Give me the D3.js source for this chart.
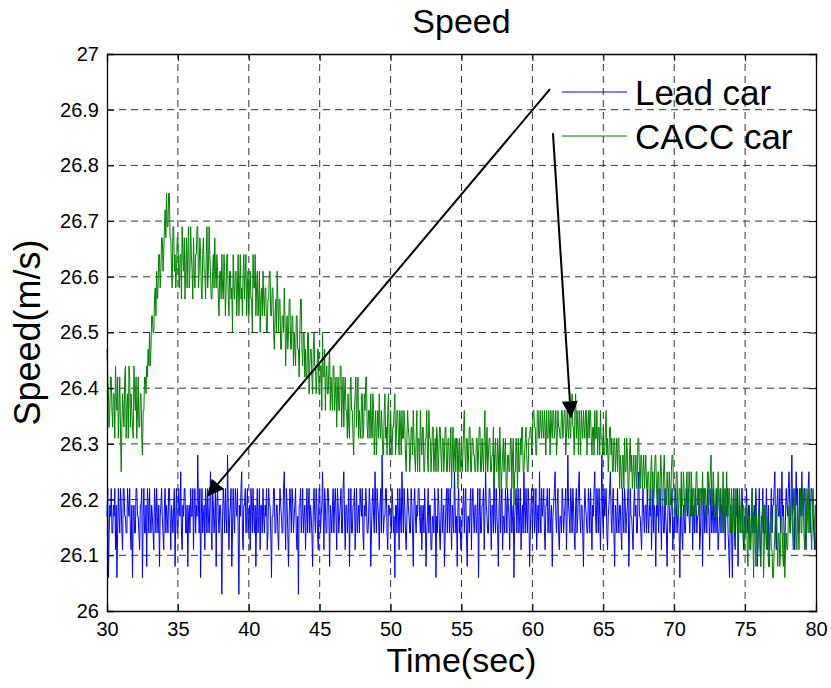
<!DOCTYPE html>
<html>
<head>
<meta charset="utf-8">
<script src="https://cdn.jsdelivr.net/npm/d3@7/dist/d3.min.js"></script>
<style>
  body { margin: 0; background: #fff; }
  text { font-family: "Liberation Sans", Arial, Helvetica, sans-serif; }
</style>
</head>
<body>
<div id="chart"></div>
<script>
// Set up conventions
let width = 831;
let height = 688;
let margin = ({top: 54, right: 15, bottom: 77, left: 107});

// sample time of both series (sec)
let startTime = 30;
let sampleStep = 0.05;

let xTicks = [30, 35, 40, 45, 50, 55, 60, 65, 70, 75, 80];
let yTicks = [26, 26.1, 26.2, 26.3, 26.4, 26.5, 26.6, 26.7, 26.8, 26.9, 27];
let seriesNames = ["Lead car", "CACC car"];
let seriesColors = ["#0000ff", "#008000"];

// Lead car speed (m/s), one row per second
let leadSpeed = [
  26.17, 26.22, 26.06, 26.14, 26.19, 26.17, 26.22, 26.14, 26.14, 26.19, 26.17, 26.22, 26.11, 26.19, 26.06, 26.14, 26.22, 26.17, 26.14, 26.22,
  26.19, 26.14, 26.11, 26.22, 26.22, 26.17, 26.17, 26.14, 26.14, 26.22, 26.19, 26.17, 26.22, 26.14, 26.11, 26.19, 26.06, 26.17, 26.19, 26.14,
  26.14, 26.22, 26.22, 26.17, 26.17, 26.14, 26.11, 26.19, 26.19, 26.22, 26.06, 26.17, 26.22, 26.14, 26.14, 26.19, 26.08, 26.22, 26.19, 26.14,
  26.22, 26.17, 26.14, 26.19, 26.17, 26.14, 26.11, 26.22, 26.19, 26.14, 26.22, 26.17, 26.14, 26.19, 26.08, 26.17, 26.19, 26.22, 26.17, 26.14,
  26.11, 26.19, 26.22, 26.14, 26.19, 26.17, 26.14, 26.22, 26.22, 26.17, 26.11, 26.19, 26.17, 26.14, 26.19, 26.22, 26.08, 26.17, 26.22, 26.14,
  26.14, 26.22, 26.19, 26.17, 26.25, 26.14, 26.11, 26.19, 26.17, 26.22, 26.22, 26.14, 26.14, 26.19, 26.08, 26.17, 26.19, 26.14, 26.22, 26.17,
  26.17, 26.22, 26.11, 26.19, 26.22, 26.14, 26.19, 26.17, 26.28, 26.19, 26.14, 26.22, 26.06, 26.17, 26.22, 26.14, 26.17, 26.19, 26.11, 26.22,
  26.19, 26.14, 26.22, 26.17, 26.14, 26.19, 26.25, 26.14, 26.11, 26.22, 26.19, 26.14, 26.17, 26.22, 26.08, 26.19, 26.22, 26.17, 26.14, 26.19,
  26.19, 26.14, 26.03, 26.17, 26.22, 26.19, 26.14, 26.22, 26.17, 26.14, 26.28, 26.19, 26.11, 26.17, 26.19, 26.22, 26.08, 26.14, 26.22, 26.17,
  26.14, 26.22, 26.19, 26.17, 26.22, 26.14, 26.03, 26.19, 26.17, 26.22, 26.25, 26.14, 26.11, 26.19, 26.19, 26.22, 26.14, 26.17, 26.22, 26.14,
  26.17, 26.19, 26.11, 26.22, 26.19, 26.14, 26.22, 26.17, 26.14, 26.19, 26.08, 26.17, 26.22, 26.14, 26.17, 26.22, 26.11, 26.19, 26.19, 26.14,
  26.22, 26.17, 26.14, 26.19, 26.17, 26.22, 26.11, 26.14, 26.22, 26.19, 26.19, 26.14, 26.06, 26.17, 26.17, 26.22, 26.22, 26.14, 26.14, 26.19,
  26.19, 26.14, 26.11, 26.17, 26.22, 26.19, 26.17, 26.14, 26.14, 26.22, 26.25, 26.17, 26.11, 26.22, 26.19, 26.14, 26.08, 26.17, 26.22, 26.19,
  26.14, 26.22, 26.19, 26.14, 26.17, 26.19, 26.22, 26.14, 26.11, 26.17, 26.03, 26.19, 26.19, 26.22, 26.14, 26.17, 26.22, 26.14, 26.17, 26.19,
  26.11, 26.17, 26.22, 26.14, 26.19, 26.22, 26.14, 26.19, 26.17, 26.14, 26.08, 26.19, 26.22, 26.17, 26.14, 26.22, 26.19, 26.14, 26.11, 26.22,
  26.22, 26.14, 26.17, 26.19, 26.25, 26.17, 26.11, 26.22, 26.19, 26.14, 26.14, 26.22, 26.22, 26.17, 26.08, 26.19, 26.17, 26.14, 26.19, 26.22,
  26.14, 26.19, 26.22, 26.17, 26.11, 26.22, 26.19, 26.14, 26.17, 26.19, 26.22, 26.14, 26.14, 26.22, 26.25, 26.17, 26.11, 26.19, 26.19, 26.14,
  26.17, 26.22, 26.08, 26.17, 26.22, 26.14, 26.14, 26.19, 26.19, 26.22, 26.11, 26.17, 26.22, 26.14, 26.17, 26.19, 26.14, 26.22, 26.19, 26.17,
  26.22, 26.14, 26.11, 26.19, 26.17, 26.22, 26.19, 26.14, 26.14, 26.17, 26.22, 26.19, 26.08, 26.14, 26.19, 26.22, 26.17, 26.14, 26.25, 26.19,
  26.14, 26.22, 26.19, 26.17, 26.11, 26.19, 26.22, 26.14, 26.28, 26.19, 26.14, 26.17, 26.17, 26.22, 26.22, 26.14, 26.11, 26.19, 26.19, 26.17,
  26.17, 26.14, 26.22, 26.19, 26.14, 26.17, 26.06, 26.19, 26.19, 26.14, 26.22, 26.17, 26.11, 26.22, 26.17, 26.14, 26.25, 26.19, 26.14, 26.22,
  26.19, 26.14, 26.11, 26.17, 26.22, 26.19, 26.17, 26.14, 26.14, 26.22, 26.19, 26.14, 26.08, 26.19, 26.22, 26.17, 26.14, 26.19, 26.17, 26.22,
  26.22, 26.17, 26.14, 26.19, 26.11, 26.17, 26.19, 26.14, 26.22, 26.17, 26.08, 26.14, 26.17, 26.22, 26.14, 26.19, 26.19, 26.11, 26.11, 26.17,
  26.17, 26.14, 26.22, 26.19, 26.06, 26.17, 26.14, 26.22, 26.19, 26.14, 26.11, 26.17, 26.22, 26.14, 26.17, 26.19, 26.08, 26.14, 26.19, 26.22,
  26.14, 26.22, 26.19, 26.14, 26.22, 26.17, 26.11, 26.19, 26.17, 26.14, 26.25, 26.19, 26.14, 26.17, 26.08, 26.19, 26.22, 26.14, 26.17, 26.11,
  26.11, 26.17, 26.19, 26.22, 26.14, 26.19, 26.22, 26.14, 26.08, 26.17, 26.17, 26.14, 26.19, 26.22, 26.11, 26.19, 26.22, 26.17, 26.14, 26.19,
  26.19, 26.14, 26.17, 26.22, 26.06, 26.17, 26.22, 26.14, 26.14, 26.19, 26.19, 26.22, 26.11, 26.17, 26.25, 26.19, 26.17, 26.14, 26.14, 26.22,
  26.22, 26.17, 26.11, 26.19, 26.19, 26.14, 26.28, 26.17, 26.14, 26.22, 26.17, 26.14, 26.08, 26.19, 26.22, 26.14, 26.19, 26.22, 26.11, 26.17,
  26.17, 26.14, 26.22, 26.19, 26.14, 26.22, 26.19, 26.17, 26.11, 26.19, 26.22, 26.14, 26.17, 26.19, 26.06, 26.17, 26.19, 26.22, 26.14, 26.19,
  26.22, 26.14, 26.17, 26.22, 26.11, 26.17, 26.19, 26.14, 26.25, 26.19, 26.14, 26.22, 26.17, 26.14, 26.22, 26.19, 26.08, 26.14, 26.19, 26.22,
  26.14, 26.19, 26.22, 26.14, 26.17, 26.22, 26.11, 26.17, 26.19, 26.14, 26.25, 26.17, 26.14, 26.22, 26.17, 26.19, 26.22, 26.14, 26.11, 26.19,
  26.19, 26.22, 26.14, 26.17, 26.22, 26.14, 26.17, 26.19, 26.08, 26.17, 26.19, 26.22, 26.25, 26.17, 26.14, 26.19, 26.22, 26.14, 26.11, 26.17,
  26.17, 26.14, 26.22, 26.19, 26.14, 26.17, 26.19, 26.22, 26.11, 26.17, 26.28, 26.19, 26.17, 26.14, 26.22, 26.19, 26.14, 26.22, 26.19, 26.14,
  26.11, 26.19, 26.22, 26.14, 26.17, 26.22, 26.25, 26.17, 26.14, 26.19, 26.19, 26.14, 26.08, 26.17, 26.22, 26.19, 26.17, 26.14, 26.14, 26.22,
  26.19, 26.14, 26.22, 26.17, 26.11, 26.19, 26.17, 26.22, 26.25, 26.17, 26.14, 26.22, 26.19, 26.14, 26.22, 26.17, 26.11, 26.19, 26.28, 26.17,
  26.14, 26.22, 26.17, 26.19, 26.22, 26.14, 26.11, 26.17, 26.19, 26.22, 26.25, 26.17, 26.14, 26.19, 26.22, 26.14, 26.08, 26.19, 26.17, 26.14,
  26.22, 26.17, 26.14, 26.19, 26.19, 26.14, 26.11, 26.22, 26.17, 26.14, 26.22, 26.19, 26.14, 26.17, 26.19, 26.22, 26.08, 26.14, 26.22, 26.17,
  26.17, 26.14, 26.11, 26.19, 26.22, 26.17, 26.19, 26.14, 26.14, 26.22, 26.25, 26.17, 26.17, 26.14, 26.11, 26.19, 26.22, 26.17, 26.14, 26.19,
  26.19, 26.14, 26.22, 26.17, 26.14, 26.19, 26.17, 26.22, 26.11, 26.17, 26.22, 26.14, 26.19, 26.17, 26.08, 26.19, 26.17, 26.22, 26.14, 26.19,
  26.22, 26.17, 26.11, 26.19, 26.19, 26.14, 26.14, 26.22, 26.17, 26.14, 26.08, 26.17, 26.22, 26.19, 26.14, 26.17, 26.19, 26.22, 26.11, 26.14,
  26.17, 26.14, 26.22, 26.19, 26.14, 26.17, 26.19, 26.14, 26.06, 26.17, 26.22, 26.14, 26.11, 26.19, 26.17, 26.14, 26.14, 26.22, 26.19, 26.17,
  26.22, 26.17, 26.14, 26.19, 26.17, 26.22, 26.11, 26.17, 26.19, 26.14, 26.22, 26.19, 26.14, 26.17, 26.17, 26.22, 26.11, 26.14, 26.19, 26.22,
  26.08, 26.17, 26.22, 26.14, 26.17, 26.19, 26.14, 26.22, 26.19, 26.17, 26.11, 26.19, 26.22, 26.14, 26.17, 26.22, 26.14, 26.17, 26.19, 26.14,
  26.22, 26.17, 26.11, 26.14, 26.17, 26.22, 26.14, 26.19, 26.19, 26.14, 26.22, 26.17, 26.11, 26.19, 26.17, 26.22, 26.14, 26.11, 26.06, 26.17,
  26.19, 26.14, 26.06, 26.17, 26.22, 26.14, 26.11, 26.19, 26.17, 26.22, 26.08, 26.14, 26.19, 26.17, 26.14, 26.22, 26.22, 26.14, 26.11, 26.17,
  26.17, 26.14, 26.22, 26.17, 26.14, 26.19, 26.19, 26.11, 26.11, 26.17, 26.22, 26.14, 26.17, 26.19, 26.14, 26.22, 26.19, 26.08, 26.11, 26.17,
  26.22, 26.14, 26.08, 26.17, 26.17, 26.22, 26.14, 26.19, 26.19, 26.14, 26.22, 26.17, 26.11, 26.19, 26.08, 26.14, 26.17, 26.22, 26.14, 26.19,
  26.19, 26.22, 26.25, 26.14, 26.11, 26.19, 26.22, 26.17, 26.17, 26.22, 26.14, 26.19, 26.25, 26.17, 26.19, 26.14, 26.11, 26.17, 26.22, 26.19,
  26.17, 26.22, 26.25, 26.19, 26.14, 26.22, 26.28, 26.17, 26.19, 26.22, 26.11, 26.17, 26.25, 26.19, 26.22, 26.14, 26.14, 26.22, 26.19, 26.17,
  26.25, 26.19, 26.17, 26.22, 26.22, 26.14, 26.11, 26.19, 26.19, 26.22, 26.25, 26.17, 26.14, 26.22, 26.22, 26.19, 26.17, 26.14, 26.11, 26.19,
  26.19
];

// CACC car speed (m/s), one row per second
let caccSpeed = [
  26.47, 26.42, 26.39, 26.33, 26.36, 26.42, 26.42, 26.36, 26.33, 26.39, 26.39, 26.31, 26.44, 26.39, 26.36, 26.42, 26.31, 26.36, 26.42, 26.33,
  26.25, 26.33, 26.39, 26.36, 26.33, 26.42, 26.44, 26.31, 26.36, 26.39, 26.31, 26.44, 26.42, 26.33, 26.39, 26.36, 26.33, 26.31, 26.44, 26.39,
  26.36, 26.42, 26.31, 26.36, 26.42, 26.33, 26.33, 26.39, 26.39, 26.31, 26.28, 26.36, 26.36, 26.42, 26.42, 26.39, 26.44, 26.42, 26.47, 26.44,
  26.50, 26.44, 26.47, 26.53, 26.53, 26.50, 26.50, 26.56, 26.58, 26.53, 26.61, 26.56, 26.58, 26.64, 26.64, 26.58, 26.61, 26.67, 26.67, 26.61,
  26.64, 26.69, 26.72, 26.67, 26.75, 26.69, 26.69, 26.75, 26.75, 26.67, 26.67, 26.61, 26.58, 26.69, 26.69, 26.61, 26.64, 26.58, 26.61, 26.67,
  26.67, 26.61, 26.58, 26.64, 26.64, 26.56, 26.69, 26.64, 26.61, 26.67, 26.56, 26.61, 26.67, 26.58, 26.64, 26.69, 26.58, 26.61, 26.69, 26.64,
  26.61, 26.56, 26.67, 26.61, 26.58, 26.64, 26.64, 26.69, 26.69, 26.58, 26.61, 26.67, 26.64, 26.58, 26.56, 26.64, 26.67, 26.61, 26.61, 26.56,
  26.64, 26.69, 26.58, 26.61, 26.69, 26.64, 26.61, 26.56, 26.56, 26.61, 26.64, 26.58, 26.67, 26.61, 26.58, 26.64, 26.61, 26.56, 26.53, 26.61,
  26.61, 26.56, 26.64, 26.58, 26.56, 26.64, 26.61, 26.53, 26.58, 26.64, 26.64, 26.56, 26.53, 26.61, 26.61, 26.56, 26.58, 26.50, 26.64, 26.58,
  26.56, 26.61, 26.61, 26.53, 26.58, 26.64, 26.53, 26.58, 26.64, 26.56, 26.58, 26.53, 26.61, 26.64, 26.56, 26.61, 26.64, 26.53, 26.58, 26.61,
  26.53, 26.58, 26.61, 26.56, 26.56, 26.50, 26.64, 26.58, 26.58, 26.64, 26.53, 26.58, 26.61, 26.53, 26.56, 26.61, 26.50, 26.56, 26.58, 26.53,
  26.61, 26.56, 26.53, 26.58, 26.58, 26.50, 26.50, 26.56, 26.56, 26.61, 26.61, 26.53, 26.53, 26.58, 26.58, 26.50, 26.47, 26.53, 26.56, 26.50,
  26.61, 26.56, 26.50, 26.56, 26.56, 26.47, 26.47, 26.53, 26.53, 26.50, 26.58, 26.53, 26.44, 26.50, 26.53, 26.47, 26.50, 26.56, 26.56, 26.47,
  26.47, 26.53, 26.53, 26.44, 26.50, 26.47, 26.44, 26.53, 26.53, 26.47, 26.47, 26.42, 26.50, 26.56, 26.56, 26.47, 26.44, 26.50, 26.50, 26.42,
  26.47, 26.42, 26.42, 26.50, 26.50, 26.39, 26.44, 26.47, 26.47, 26.42, 26.39, 26.47, 26.50, 26.44, 26.44, 26.39, 26.42, 26.47, 26.47, 26.39,
  26.39, 26.44, 26.44, 26.36, 26.50, 26.42, 26.42, 26.47, 26.36, 26.42, 26.44, 26.39, 26.39, 26.44, 26.47, 26.36, 26.42, 26.39, 26.36, 26.44,
  26.44, 26.36, 26.39, 26.42, 26.33, 26.39, 26.42, 26.36, 26.36, 26.44, 26.44, 26.33, 26.39, 26.42, 26.33, 26.39, 26.42, 26.36, 26.36, 26.31,
  26.39, 26.33, 26.31, 26.39, 26.42, 26.36, 26.36, 26.31, 26.28, 26.36, 26.39, 26.42, 26.33, 26.39, 26.42, 26.31, 26.36, 26.33, 26.31, 26.39,
  26.39, 26.31, 26.33, 26.39, 26.36, 26.42, 26.42, 26.33, 26.31, 26.36, 26.36, 26.31, 26.39, 26.33, 26.31, 26.39, 26.36, 26.28, 26.33, 26.36,
  26.28, 26.33, 26.36, 26.31, 26.39, 26.33, 26.31, 26.36, 26.33, 26.28, 26.28, 26.36, 26.39, 26.31, 26.33, 26.28, 26.36, 26.39, 26.31, 26.28,
  26.36, 26.31, 26.28, 26.33, 26.33, 26.36, 26.39, 26.28, 26.31, 26.36, 26.36, 26.31, 26.28, 26.36, 26.33, 26.28, 26.36, 26.31, 26.31, 26.36,
  26.33, 26.28, 26.25, 26.31, 26.36, 26.33, 26.31, 26.25, 26.28, 26.33, 26.33, 26.28, 26.36, 26.31, 26.28, 26.25, 26.31, 26.36, 26.25, 26.31,
  26.31, 26.25, 26.36, 26.31, 26.28, 26.33, 26.33, 26.25, 26.25, 26.31, 26.31, 26.36, 26.28, 26.25, 26.36, 26.31, 26.31, 26.25, 26.28, 26.33,
  26.33, 26.25, 26.28, 26.31, 26.25, 26.33, 26.31, 26.25, 26.28, 26.33, 26.33, 26.28, 26.25, 26.31, 26.31, 26.25, 26.28, 26.33, 26.33, 26.25,
  26.25, 26.31, 26.31, 26.25, 26.28, 26.33, 26.22, 26.28, 26.33, 26.25, 26.28, 26.31, 26.25, 26.31, 26.31, 26.22, 26.28, 26.31, 26.25, 26.28,
  26.31, 26.25, 26.28, 26.33, 26.36, 26.28, 26.25, 26.31, 26.31, 26.25, 26.28, 26.33, 26.33, 26.25, 26.25, 26.31, 26.31, 26.28, 26.28, 26.25,
  26.25, 26.31, 26.31, 26.25, 26.28, 26.33, 26.33, 26.25, 26.25, 26.31, 26.28, 26.25, 26.31, 26.36, 26.25, 26.28, 26.33, 26.25, 26.28, 26.31,
  26.31, 26.25, 26.25, 26.28, 26.28, 26.33, 26.22, 26.28, 26.31, 26.25, 26.25, 26.31, 26.28, 26.22, 26.33, 26.28, 26.22, 26.25, 26.28, 26.31,
  26.25, 26.28, 26.31, 26.22, 26.22, 26.28, 26.28, 26.25, 26.25, 26.31, 26.31, 26.22, 26.28, 26.31, 26.19, 26.25, 26.25, 26.31, 26.28, 26.22,
  26.31, 26.25, 26.25, 26.31, 26.28, 26.33, 26.33, 26.25, 26.25, 26.28, 26.31, 26.33, 26.28, 26.25, 26.25, 26.31, 26.31, 26.33, 26.33, 26.28,
  26.31, 26.36, 26.36, 26.33, 26.33, 26.28, 26.28, 26.36, 26.36, 26.31, 26.31, 26.36, 26.33, 26.31, 26.36, 26.33, 26.31, 26.36, 26.33, 26.28,
  26.36, 26.31, 26.31, 26.36, 26.33, 26.28, 26.36, 26.33, 26.31, 26.36, 26.36, 26.31, 26.33, 26.36, 26.28, 26.31, 26.36, 26.33, 26.33, 26.31,
  26.31, 26.36, 26.36, 26.31, 26.33, 26.36, 26.36, 26.28, 26.31, 26.36, 26.33, 26.31, 26.36, 26.33, 26.31, 26.36, 26.39, 26.33, 26.33, 26.28,
  26.36, 26.39, 26.31, 26.36, 26.33, 26.28, 26.36, 26.33, 26.28, 26.36, 26.33, 26.31, 26.36, 26.33, 26.31, 26.36, 26.36, 26.28, 26.33, 26.36,
  26.31, 26.36, 26.36, 26.31, 26.28, 26.33, 26.33, 26.28, 26.36, 26.31, 26.31, 26.36, 26.28, 26.33, 26.33, 26.28, 26.36, 26.31, 26.31, 26.28,
  26.33, 26.28, 26.28, 26.33, 26.36, 26.28, 26.31, 26.25, 26.28, 26.33, 26.33, 26.28, 26.31, 26.25, 26.25, 26.31, 26.31, 26.25, 26.28, 26.31,
  26.25, 26.31, 26.31, 26.22, 26.28, 26.25, 26.22, 26.28, 26.28, 26.22, 26.31, 26.25, 26.25, 26.31, 26.28, 26.22, 26.22, 26.28, 26.31, 26.25,
  26.28, 26.22, 26.25, 26.28, 26.22, 26.25, 26.28, 26.22, 26.25, 26.31, 26.31, 26.25, 26.22, 26.28, 26.28, 26.22, 26.25, 26.28, 26.22, 26.25,
  26.28, 26.22, 26.22, 26.25, 26.25, 26.19, 26.19, 26.25, 26.28, 26.22, 26.25, 26.19, 26.22, 26.28, 26.28, 26.22, 26.19, 26.25, 26.25, 26.19,
  26.22, 26.28, 26.25, 26.19, 26.19, 26.25, 26.28, 26.22, 26.22, 26.19, 26.25, 26.22, 26.19, 26.25, 26.22, 26.19, 26.25, 26.28, 26.28, 26.22,
  26.22, 26.17, 26.19, 26.25, 26.25, 26.19, 26.17, 26.22, 26.22, 26.17, 26.25, 26.19, 26.19, 26.25, 26.22, 26.17, 26.17, 26.22, 26.25, 26.19,
  26.19, 26.25, 26.22, 26.17, 26.25, 26.22, 26.17, 26.22, 26.22, 26.17, 26.19, 26.25, 26.25, 26.19, 26.22, 26.17, 26.17, 26.22, 26.22, 26.19,
  26.25, 26.19, 26.19, 26.22, 26.22, 26.17, 26.17, 26.25, 26.25, 26.19, 26.22, 26.25, 26.28, 26.19, 26.19, 26.25, 26.22, 26.17, 26.17, 26.22,
  26.22, 26.17, 26.25, 26.19, 26.17, 26.22, 26.22, 26.14, 26.19, 26.25, 26.14, 26.19, 26.22, 26.17, 26.25, 26.19, 26.17, 26.22, 26.22, 26.14,
  26.19, 26.22, 26.14, 26.19, 26.22, 26.14, 26.17, 26.22, 26.19, 26.14, 26.11, 26.19, 26.22, 26.14, 26.17, 26.22, 26.14, 26.19, 26.19, 26.11,
  26.14, 26.19, 26.19, 26.11, 26.08, 26.17, 26.17, 26.11, 26.14, 26.19, 26.22, 26.14, 26.06, 26.17, 26.14, 26.08, 26.19, 26.14, 26.11, 26.17,
  26.17, 26.11, 26.08, 26.14, 26.14, 26.19, 26.06, 26.11, 26.19, 26.14, 26.11, 26.17, 26.14, 26.08, 26.08, 26.14, 26.17, 26.11, 26.11, 26.06,
  26.06, 26.11, 26.14, 26.19, 26.19, 26.14, 26.08, 26.14, 26.14, 26.08, 26.11, 26.17, 26.17, 26.11, 26.08, 26.14, 26.06, 26.11, 26.14, 26.11,
  26.11, 26.17, 26.19, 26.14, 26.14, 26.19, 26.22, 26.14, 26.11, 26.17, 26.17, 26.22, 26.14, 26.11, 26.19, 26.14, 26.11, 26.17, 26.22, 26.14,
  26.14, 26.22, 26.19, 26.14, 26.11, 26.17, 26.22, 26.14, 26.17, 26.22, 26.14, 26.19, 26.19, 26.14, 26.11, 26.19, 26.22, 26.17, 26.17, 26.11,
  26.14
];

// arrow annotations, in data units (time, speed)
let arrows = [
  {from: [61.24, 26.937], to: [37.05, 26.205]},
  {from: [61.45, 26.858], to: [62.72, 26.346]}
];

let svg = d3.select("#chart")
    .append("svg")
    .attr("width", width)
    .attr("height", height)
    .style("background", "#fff")

let xScale = d3.scaleLinear()
    .domain([30, 80])
    .range([margin.left, width - margin.right])

let yScale = d3.scaleLinear()
    .domain([26, 27])
    .range([height - margin.bottom, margin.top])

let fmtY = d => Math.abs(d - Math.round(d)) < 1e-9 ? d3.format("d")(d) : d3.format(".1f")(d)

// grid lines
let grid = svg.append("g")
    .attr("stroke", "#333")
    .attr("stroke-width", 1)
    .attr("stroke-dasharray", "7,5")

grid.selectAll(".vgrid")
    .data(xTicks.slice(1, -1))
    .enter()
    .append("line")
    .attr("x1", d => xScale(d))
    .attr("x2", d => xScale(d))
    .attr("y1", yScale(26))
    .attr("y2", yScale(27))

grid.selectAll(".hgrid")
    .data(yTicks.slice(1, -1))
    .enter()
    .append("line")
    .attr("x1", xScale(30))
    .attr("x2", xScale(80))
    .attr("y1", d => yScale(d))
    .attr("y2", d => yScale(d))

// series lines
let line = d3.line()
    .x((d, i) => xScale(startTime + i * sampleStep))
    .y(d => yScale(d))

let allSeries = [leadSpeed, caccSpeed];

svg.selectAll(".series")
    .data(allSeries)
    .enter()
    .append("path")
    .attr("class", "series")
    .attr("d", d => line(d))
    .style("fill", "none")
    .attr("stroke", (d, i) => seriesColors[i])
    .attr("stroke-width", 1)

// axes, ticks inside
let xAxis = d3.axisBottom(xScale).tickValues(xTicks).tickSize(-7).tickPadding(11)
let yAxis = d3.axisLeft(yScale).tickValues(yTicks).tickSize(-7).tickPadding(8).tickFormat(fmtY)
let xAxisTop = d3.axisTop(xScale).tickValues(xTicks).tickSize(-7).tickFormat("")
let yAxisRight = d3.axisRight(yScale).tickValues(yTicks).tickSize(-7).tickFormat("")

function styleAxis(g) {
    g.select(".domain").attr("stroke", "#000").attr("stroke-width", 1.3)
    g.selectAll(".tick line").attr("stroke", "#000").attr("stroke-width", 1)
    g.selectAll("text")
        .attr("fill", "#000")
        .style("font-size", "20px")
        .style("font-family", "'Liberation Sans', Arial, sans-serif")
}

svg.append("g")
    .attr("transform", "translate(0," + yScale(26) + ")")
    .call(xAxis)
    .call(styleAxis)

svg.append("g")
    .attr("transform", "translate(" + xScale(30) + ",0)")
    .call(yAxis)
    .call(styleAxis)

svg.append("g")
    .attr("transform", "translate(0," + yScale(27) + ")")
    .call(xAxisTop)
    .call(styleAxis)

svg.append("g")
    .attr("transform", "translate(" + xScale(80) + ",0)")
    .call(yAxisRight)
    .call(styleAxis)

// arrows
let arrowG = svg.append("g")
arrows.forEach(a => {
    let x1 = xScale(a.from[0]), y1 = yScale(a.from[1])
    let x2 = xScale(a.to[0]), y2 = yScale(a.to[1])
    let ang = Math.atan2(y2 - y1, x2 - x1)
    let headLen = 17, headHalf = 8
    let bx = x2 - headLen * Math.cos(ang), by = y2 - headLen * Math.sin(ang)
    arrowG.append("line")
        .attr("x1", x1).attr("y1", y1)
        .attr("x2", bx).attr("y2", by)
        .attr("stroke", "#000")
        .attr("stroke-width", 2)
    let pts = [
        [x2, y2],
        [bx + headHalf * Math.sin(ang), by - headHalf * Math.cos(ang)],
        [bx - headHalf * Math.sin(ang), by + headHalf * Math.cos(ang)]
    ]
    arrowG.append("polygon")
        .attr("points", pts.map(p => p.join(",")).join(" "))
        .attr("fill", "#000")
})

// legend
let legend = svg.append("g")
    .attr("transform", "translate(562,92)")

legend.selectAll(".leg")
    .data(seriesNames)
    .enter()
    .append("g")
    .attr("transform", (d, i) => "translate(0," + i * 44 + ")")
    .each(function (d, i) {
        let g = d3.select(this)
        g.append("line")
            .attr("x1", 0).attr("x2", 65)
            .attr("y1", 0).attr("y2", 0)
            .attr("stroke", seriesColors[i])
            .attr("stroke-width", 1)
        g.append("text")
            .attr("x", 73)
            .attr("y", 13)
            .style("font-size", "35px")
            .text(d)
    })

// title and axis labels
let plotMidX = (xScale(30) + xScale(80)) / 2
let plotMidY = (yScale(26) + yScale(27)) / 2

svg.append("text")
    .attr("x", plotMidX)
    .attr("y", 33)
    .attr("text-anchor", "middle")
    .style("font-size", "34px")
    .text("Speed")

svg.append("text")
    .attr("x", plotMidX)
    .attr("y", 672)
    .attr("text-anchor", "middle")
    .style("font-size", "34px")
    .text("Time(sec)")

svg.append("text")
    .attr("transform", "translate(40," + plotMidY + ") rotate(-90)")
    .attr("text-anchor", "middle")
    .style("font-size", "36px")
    .text("Speed(m/s)")
</script>
</body>
</html>
